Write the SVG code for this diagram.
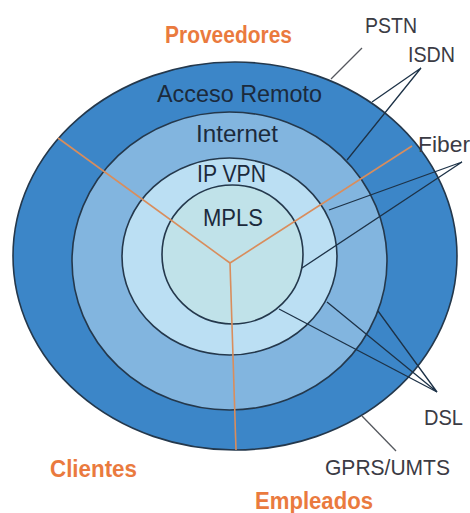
<svg xmlns="http://www.w3.org/2000/svg" width="470" height="513" viewBox="0 0 470 513">
<style>
.ring{stroke:#24384c;stroke-width:1.6}
.lbl{font-family:"Liberation Sans",Arial,sans-serif;font-size:24.5px;fill:#1b2a3c;text-anchor:middle}
.ext{font-family:"Liberation Sans",Arial,sans-serif;font-size:22px;fill:#3b3b44}
.grp{font-family:"Liberation Sans",Arial,sans-serif;font-size:23px;font-weight:bold;fill:#ea7a3e}
.seg{stroke:#d98d5c;stroke-width:1.6;fill:none}
.con{stroke:#1d3247;stroke-width:1.3;fill:none}
.con2{stroke:#55585e;stroke-width:1.3;fill:none}
</style>
<rect width="470" height="513" fill="#ffffff"/>
<g id="acceso-remoto">
<ellipse class="ring" cx="235" cy="256" rx="222" ry="194" fill="#3c86c8"/>
</g>
<g id="internet">
<ellipse class="ring" cx="229.5" cy="261" rx="157.5" ry="149" fill="#82b5df"/>
</g>
<g id="ip-vpn">
<ellipse class="ring" cx="229.5" cy="256.5" rx="107.5" ry="98.5" fill="#bbdff3"/>
</g>
<g id="mpls">
<ellipse class="ring" cx="232.5" cy="254.5" rx="70.5" ry="69.5" fill="#c0e2e9"/>
</g>
<g id="segments">
<line class="seg" x1="230" y1="263" x2="58" y2="138"/>
<line class="seg" x1="230" y1="263" x2="412" y2="146"/>
<line class="seg" x1="230" y1="263" x2="236" y2="450"/>
</g>
<g id="connectors">
<line class="con2" x1="331" y1="79" x2="362" y2="48"/>
<polyline class="con" points="372,102 421,68 347,160"/>
<polyline class="con" points="329,210 462,162 302,268"/>
<polyline class="con" points="327,302 437,392 378,311"/>
<line class="con" x1="279" y1="309" x2="437" y2="392"/>
<line class="con2" x1="362" y1="416" x2="396" y2="451"/>
</g>
<g id="labels">
<text class="lbl" x="239.5" y="102" textLength="165" lengthAdjust="spacingAndGlyphs">Acceso Remoto</text>
<text class="lbl" x="237" y="142" textLength="82" lengthAdjust="spacingAndGlyphs">Internet</text>
<text class="lbl" x="231.5" y="182" textLength="69" lengthAdjust="spacingAndGlyphs">IP VPN</text>
<text class="lbl" x="233" y="226" textLength="60" lengthAdjust="spacingAndGlyphs">MPLS</text>
<text class="ext" x="365" y="33" textLength="52" lengthAdjust="spacingAndGlyphs">PSTN</text>
<text class="ext" x="408" y="62" textLength="47" lengthAdjust="spacingAndGlyphs">ISDN</text>
<text class="ext" x="418" y="152" textLength="52" lengthAdjust="spacingAndGlyphs">Fiber</text>
<text class="ext" x="424" y="425" textLength="39" lengthAdjust="spacingAndGlyphs">DSL</text>
<text class="ext" x="325" y="475" textLength="125" lengthAdjust="spacingAndGlyphs">GPRS/UMTS</text>
<text class="grp" x="165" y="43" textLength="127" lengthAdjust="spacingAndGlyphs">Proveedores</text>
<text class="grp" x="50" y="477" textLength="87" lengthAdjust="spacingAndGlyphs">Clientes</text>
<text class="grp" x="255" y="509" textLength="118" lengthAdjust="spacingAndGlyphs">Empleados</text>
</g>
</svg>
